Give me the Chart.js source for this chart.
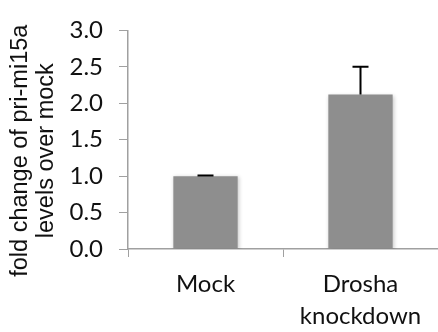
<!DOCTYPE html>
<html>
<head>
<meta charset="utf-8">
<script src="https://cdn.jsdelivr.net/npm/chart.js@4.4.1/dist/chart.umd.min.js"></script>
<style>
  html, body { margin: 0; padding: 0; background: #ffffff; }
  #wrap { width: 438px; height: 332px; }
</style>
</head>
<body>
<div id="wrap"><canvas id="c" width="438" height="332"></canvas></div>
<script>
const categories = [["Mock"], ["Drosha", "knockdown"]];
const foldChange = [1.0, 2.12];
const errorUp = [0.01, 0.38];
const yTicks = [0.0, 0.5, 1.0, 1.5, 2.0, 2.5, 3.0];
const yTitle = ["fold change of pri-mi15a", "levels over mock"];

const errorBarPlugin = {
  id: 'errorBars',
  beforeDatasetsDraw(chart) {
    const ctx = chart.ctx;
    ctx.save();
    ctx.shadowColor = 'rgba(0,0,0,0.22)';
    ctx.shadowBlur = 4;
    ctx.shadowOffsetX = 1;
    ctx.shadowOffsetY = 1;
  },
  afterDatasetsDraw(chart) {
    const ctx = chart.ctx;
    ctx.restore();
    const meta = chart.getDatasetMeta(0);
    const yScale = chart.scales.y;
    ctx.save();
    ctx.strokeStyle = '#000000';
    ctx.lineWidth = 2;
    meta.data.forEach((bar, i) => {
      const v = foldChange[i];
      const e = errorUp[i];
      const yTop = yScale.getPixelForValue(v + e);
      const yBase = yScale.getPixelForValue(v);
      ctx.beginPath();
      ctx.moveTo(bar.x, yBase);
      ctx.lineTo(bar.x, yTop);
      ctx.moveTo(bar.x - 8, yTop);
      ctx.lineTo(bar.x + 8, yTop);
      ctx.stroke();
    });
    ctx.restore();
  }
};

// Y-axis title (two centred lines, rotated), placed slightly below the axis centre as in the reference
const yTitlePlugin = {
  id: 'yTitle',
  afterDraw(chart) {
    const ctx = chart.ctx;
    const area = chart.chartArea;
    const cy = (area.top + area.bottom) / 2 + 11;
    ctx.save();
    ctx.fillStyle = '#111111';
    ctx.font = '23.5px "Liberation Sans", Arial, sans-serif';
    ctx.textAlign = 'center';
    ctx.textBaseline = 'alphabetic';
    const baselines = [27, 53];
    yTitle.forEach((line, i) => {
      ctx.save();
      ctx.translate(baselines[i], cy);
      ctx.rotate(-Math.PI / 2);
      ctx.fillText(line, 0, 0);
      ctx.restore();
    });
    ctx.restore();
  }
};

new Chart(document.getElementById('c'), {
  type: 'bar',
  data: {
    labels: categories,
    datasets: [{
      data: foldChange,
      backgroundColor: '#8e8e8e',
      borderWidth: 0,
      categoryPercentage: 1.0,
      barPercentage: 0.415
    }]
  },
  options: {
    responsive: false,
    devicePixelRatio: 1,
    animation: false,
    layout: { padding: { left: 0, right: -3, top: 19, bottom: 0 } },
    plugins: { legend: { display: false }, tooltip: { enabled: false } },
    scales: {
      x: {
        grid: { display: true, drawOnChartArea: false, drawTicks: true, tickLength: 8, color: '#a0a0a0', offset: true },
        border: { color: '#a0a0a0', width: 1.5 },
        ticks: {
          color: '#111111',
          font: { family: 'Lato', size: 24, lineHeight: 1.3 },
          padding: 12,
          maxRotation: 0,
          autoSkip: false
        },
        afterFit(scale) { scale.height = 83; }
      },
      y: {
        min: 0,
        max: 3,
        afterBuildTicks(scale) { scale.ticks = yTicks.map(v => ({ value: v })); },
        grid: { display: true, drawOnChartArea: false, drawTicks: true, tickLength: 9, color: '#a0a0a0' },
        border: { color: '#a0a0a0', width: 1.5 },
        ticks: {
          color: '#111111',
          font: { family: 'Lato', size: 24 },
          padding: 16,
          callback: v => Number(v).toFixed(1)
        },
        title: { display: false, text: yTitle },
        afterFit(scale) { scale.width = 128; }
      }
    }
  },
  plugins: [errorBarPlugin, yTitlePlugin]
});
</script>
</body>
</html>
